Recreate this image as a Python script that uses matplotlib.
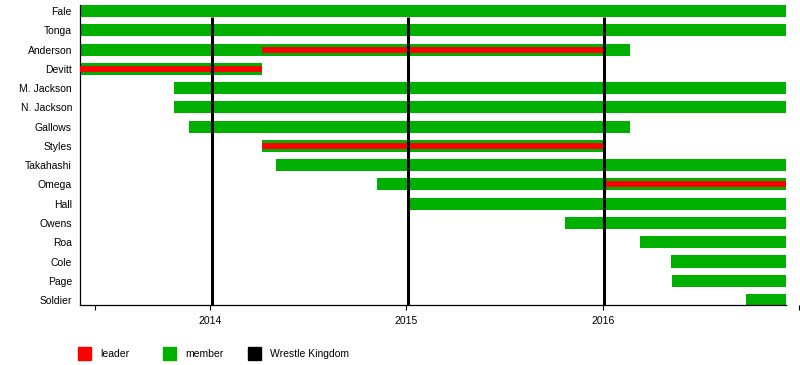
import matplotlib.pyplot as plt
from matplotlib.patches import Rectangle

plt.rcParams['font.family'] = ['Liberation Sans', 'DejaVu Sans']

# members, top to bottom (dates as decimal years)
members = ['Fale', 'Tonga', 'Anderson', 'Devitt', 'M. Jackson', 'N. Jackson', 'Gallows',
           'Styles', 'Takahashi', 'Omega', 'Hall', 'Owens', 'Roa', 'Cole', 'Page', 'Soldier']
member_start = [2013.338, 2013.338, 2013.338, 2013.338, 2013.817, 2013.817, 2013.893,
                2014.265, 2014.336, 2014.851, 2015.009, 2015.808, 2016.191, 2016.349,
                2016.354, 2016.731]
member_end = [2016.935, 2016.935, 2016.140, 2014.265, 2016.935, 2016.935, 2016.140,
              2016.012, 2016.935, 2016.935, 2016.935, 2016.935, 2016.935, 2016.935,
              2016.935, 2016.935]

# leader periods
leader_names = ['Devitt', 'Anderson', 'Styles', 'Omega']
leader_start = [2013.338, 2014.265, 2014.265, 2016.010]
leader_end = [2014.265, 2016.012, 2016.012, 2016.935]

# Wrestle Kingdom events (Jan 4)
wk_dates = [2014.008, 2015.008, 2016.008]

period_start = 2013.338
period_end = 2016.935
tick_pos = [2013.414, 2014, 2015, 2016, 2017]
tick_labels = ['', '2014', '2015', '2016', '']

green = '#00b000'
red = '#ff0000'

fig = plt.figure(figsize=(8, 3.65), dpi=100)
ax = fig.add_axes([0.1, 0.1644, 0.9, 0.8219])

rows = list(range(len(members)))
ax.barh(rows, [e - s for s, e in zip(member_start, member_end)], left=member_start,
        height=0.623, color=green, zorder=2)
lrows = [members.index(n) for n in leader_names]
ax.barh(lrows, [e - s for s, e in zip(leader_start, leader_end)], left=leader_start,
        height=0.311, color=red, zorder=3)

ax.vlines(wk_dates, 0.311, 15.257, color='black', linewidth=2.2, zorder=4)

ax.set_xlim(period_start, 2017.005)
ax.set_ylim(15.257, -0.311)

ax.set_yticks(rows)
ax.set_yticklabels(members, fontsize=7.5)
ax.tick_params(axis='y', length=0, pad=5.8)

ax.set_xticks(tick_pos)
ax.set_xticklabels(tick_labels, fontsize=7.5)
ax.tick_params(axis='x', length=3.6, width=0.8, pad=4)

ax.spines['top'].set_visible(False)
ax.spines['right'].set_visible(False)
ax.spines['left'].set_linewidth(0.9)
ax.spines['bottom'].set_linewidth(0.9)
ax.spines['bottom'].set_bounds(period_start, period_end)

# legend
legend_labels = ['leader', 'member', 'Wrestle Kingdom']
legend_colors = [red, green, 'black']
legend_x = [0.0975, 0.2038, 0.31]
for lx, lab, col in zip(legend_x, legend_labels, legend_colors):
    fig.patches.append(Rectangle((lx, 0.0137), 0.01625, 0.0356, color=col,
                                 transform=fig.transFigure, figure=fig))
    fig.text(lx + 0.0275, 0.0301, lab, fontsize=7.5, va='center', ha='left')

fig.savefig('out.png', dpi=100)
